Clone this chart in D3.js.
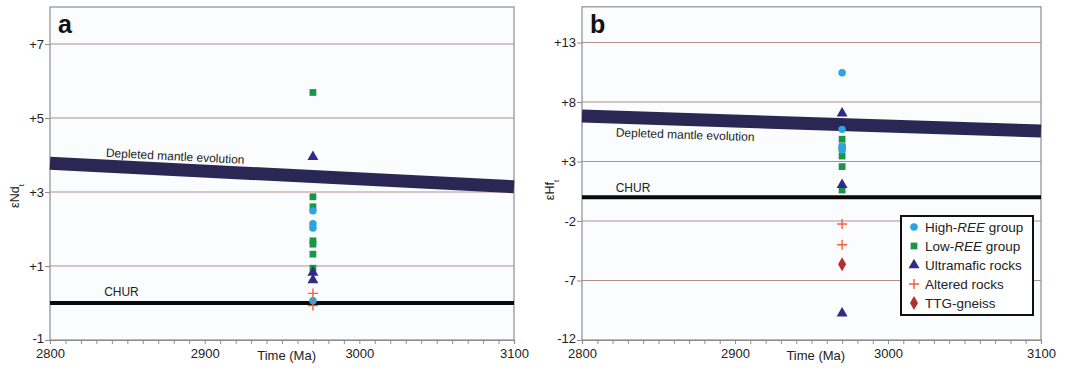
<!DOCTYPE html>
<html>
<head>
<meta charset="utf-8">
<script src="https://cdn.jsdelivr.net/npm/d3@7"></script>
<style>
  body { margin: 0; background: #ffffff; }
  svg { display: block; font-family: "Liberation Sans", Arial, sans-serif; }
</style>
</head>
<body>
<svg id="chart"></svg>
<script>
// time axis shared by both panels
let timeDomain = [2800, 3100];
let sampleAge = 2970;
let timeTicks = d3.range(2800, 3101, 10);

// panel a : epsilon Nd
let ndTicks = [-1, 1, 3, 5, 7];
let ndDomain = [-1, 8];
let ndDepleted = [3.78, 3.14];   // at 2800 and 3100
let ndHighREE = [2.49, 2.14, 2.03, 0.06];
let ndLowREE = [5.69, 2.87, 2.6, 1.68, 1.59, 1.32, 0.94];
let ndUltramafic = [3.95, 0.82, 0.62];
let ndAltered = [0.26, -0.07];
let ndTTG = [];

// panel b : epsilon Hf
let hfTicks = [-12, -7, -2, 3, 8, 13];
let hfDomain = [-12, 16];
let hfDepleted = [6.82, 5.56];
let hfHighREE = [10.46, 5.7, 4.24, 3.97];
let hfLowREE = [4.87, 4.24, 3.46, 2.57, 0.6];
let hfUltramafic = [7.05, 1.03, -9.76];
let hfAltered = [-2.25, -4.0];
let hfTTG = [-5.64];

let legendNames = ["High-REE group", "Low-REE group", "Ultramafic rocks", "Altered rocks", "TTG-gneiss"];

let width = 1065;
let height = 368;

let svg = d3.select("#chart").attr("width", width).attr("height", height);

let groups = [
    {key: "low", color: "#1b9548", shape: d3.symbolSquare, size: 46},
    {key: "high", color: "#2aa4e2", shape: d3.symbolCircle, size: 44},
    {key: "ultra", color: "#2f2b86", shape: d3.symbolTriangle, size: 52},
    {key: "alt", color: "#f2603c", shape: null, size: 0},
    {key: "ttg", color: "#b3302c", shape: d3.symbolDiamond, size: 56}
];

let markPath = (g) => {
    if (g.shape === null) return "M-5,0H5M0,-5V5";
    return d3.symbol().type(g.shape).size(g.size)();
};

let drawPanel = (p) => {
    let xScale = d3.scaleLinear().domain(timeDomain).range([p.left, p.right]);
    let yScale = d3.scaleLinear().domain(p.domain).range([340, p.top]);

    let panel = svg.append("g");

    // plot background + frame
    panel.append("rect")
        .attr("x", p.left).attr("y", p.top)
        .attr("width", p.right - p.left).attr("height", 340 - p.top)
        .style("fill", "#fbfcfe")
        .style("stroke", "#8d8d8d")
        .style("stroke-width", 1.2);

    // gridlines
    panel.selectAll(".grid")
        .data(p.ticks.filter((t) => t > p.domain[0]))
        .enter()
        .append("line")
        .attr("x1", p.left).attr("x2", p.right)
        .attr("y1", (d) => yScale(d)).attr("y2", (d) => yScale(d))
        .style("stroke", "#b38f88")
        .style("stroke-width", 1);

    // depleted mantle band
    panel.append("line")
        .attr("x1", xScale(timeDomain[0])).attr("x2", xScale(timeDomain[1]))
        .attr("y1", yScale(p.depleted[0])).attr("y2", yScale(p.depleted[1]))
        .style("stroke", "#2b2755")
        .style("stroke-width", 13);

    // CHUR
    panel.append("line")
        .attr("x1", p.left).attr("x2", p.right)
        .attr("y1", yScale(0)).attr("y2", yScale(0))
        .style("stroke", "#0a0a0a")
        .style("stroke-width", 4);

    let angle = Math.atan2(yScale(p.depleted[1]) - yScale(p.depleted[0]),
                           xScale(timeDomain[1]) - xScale(timeDomain[0])) * 180 / Math.PI;
    let lx = xScale(p.dmLabel[0]);
    let ly = yScale(p.dmLabel[1]);
    panel.append("text")
        .attr("transform", "translate(" + lx + "," + ly + ") rotate(" + angle + ")")
        .style("font-size", "12px")
        .style("fill", "#222")
        .text("Depleted mantle evolution");

    panel.append("text")
        .attr("x", xScale(p.churLabel[0])).attr("y", yScale(p.churLabel[1]))
        .style("font-size", "12px")
        .style("fill", "#222")
        .text("CHUR");

    // x axis
    let xAxis = d3.axisBottom(xScale)
        .tickValues(timeTicks)
        .tickSize(4)
        .tickFormat((d) => d % 100 === 0 ? d : "");
    let gx = panel.append("g")
        .attr("transform", "translate(0, 340)")
        .call(xAxis);
    gx.select(".domain").style("stroke", "#8d8d8d").style("stroke-width", 1.2);
    gx.selectAll(".tick line").style("stroke", "#8d8d8d");
    gx.selectAll(".tick text").style("font-size", "13px").style("fill", "#222").attr("y", 9);

    // y axis
    let yAxis = d3.axisLeft(yScale)
        .tickValues(p.ticks)
        .tickSize(5)
        .tickFormat((d) => d > 0 ? "+" + d : d);
    let gy = panel.append("g")
        .attr("transform", "translate(" + p.left + ", 0)")
        .call(yAxis);
    gy.select(".domain").remove();
    gy.selectAll(".tick line").style("stroke", "#8d8d8d");
    gy.selectAll(".tick text").style("font-size", "13px").style("fill", "#222")
        .attr("x", -6).attr("dy", (d) => d === p.domain[0] ? "0.2em" : "0.32em");

    // axis titles
    panel.append("text")
        .attr("x", xScale(2972)).attr("y", 360)
        .attr("text-anchor", "end")
        .style("font-size", "13px")
        .style("fill", "#222")
        .text("Time (Ma)");

    let yt = panel.append("text")
        .attr("transform", "translate(" + p.titleX + "," + p.titleY + ") rotate(-90)")
        .attr("text-anchor", "middle")
        .style("font-size", "12.5px")
        .style("fill", "#222");
    yt.append("tspan").text(p.title);
    yt.append("tspan").attr("baseline-shift", "sub").style("font-size", "8px").text("t");

    // panel letter
    panel.append("text")
        .attr("x", p.left + 8).attr("y", 33)
        .style("font-size", "25px")
        .style("font-weight", "bold")
        .style("fill", "#111")
        .text(p.letter);

    // data points
    groups.forEach((g) => {
        let vals = p.series[g.key];
        let sel = panel.selectAll(".pt-" + g.key)
            .data(vals)
            .enter()
            .append("path")
            .attr("d", markPath(g))
            .attr("transform", (d) => "translate(" + xScale(sampleAge) + "," + yScale(d) + ")");
        if (g.shape === null) {
            sel.style("fill", "none").style("stroke", g.color).style("stroke-width", 1.4);
        } else {
            sel.style("fill", g.color);
        }
    });
};

drawPanel({
    letter: "a", left: 50, right: 514, top: 7,
    domain: ndDomain, ticks: ndTicks, depleted: ndDepleted,
    dmLabel: [2836, 3.95], churLabel: [2835, 0.18],
    title: "εNd", titleX: 19, titleY: 196,
    series: {low: ndLowREE, high: ndHighREE, ultra: ndUltramafic, alt: ndAltered, ttg: ndTTG}
});

drawPanel({
    letter: "b", left: 582, right: 1041, top: 6.8,
    domain: hfDomain, ticks: hfTicks, depleted: hfDepleted,
    dmLabel: [2822, 5.1], churLabel: [2822, 0.45],
    title: "εHf", titleX: 554, titleY: 190,
    series: {low: hfLowREE, high: hfHighREE, ultra: hfUltramafic, alt: hfAltered, ttg: hfTTG}
});

// legend (panel b)
let legend = svg.append("g").attr("transform", "translate(901, 216)");
legend.append("rect")
    .attr("width", 132).attr("height", 99)
    .style("fill", "#ffffff")
    .style("stroke", "#111")
    .style("stroke-width", 2);

let legendOrder = ["high", "low", "ultra", "alt", "ttg"];
let legendY = d3.scalePoint().domain(legendOrder).range([11, 87]);

legendOrder.forEach((k, i) => {
    let g = groups.find((d) => d.key === k);
    let row = legend.append("g").attr("transform", "translate(13," + legendY(k) + ")");
    let m = row.append("path").attr("d", markPath(g));
    if (g.shape === null) {
        m.style("fill", "none").style("stroke", g.color).style("stroke-width", 1.4);
    } else {
        m.style("fill", g.color);
    }
    let t = row.append("text")
        .attr("x", 11).attr("y", 4.5)
        .style("font-size", "13.5px")
        .style("fill", "#222");
    let name = legendNames[i];
    if (name.indexOf("REE") >= 0) {
        let parts = name.split("REE");
        t.append("tspan").text(parts[0]);
        t.append("tspan").style("font-style", "italic").text("REE");
        t.append("tspan").text(parts[1]);
    } else {
        t.text(name);
    }
});
</script>
</body>
</html>
